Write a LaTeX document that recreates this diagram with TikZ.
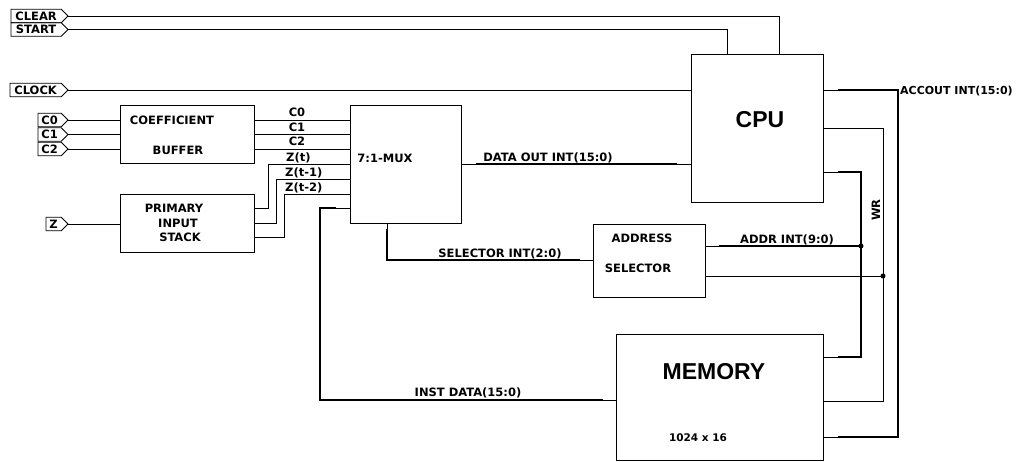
\documentclass[tikz,border=0pt]{standalone}
\usepackage{fontspec}
\setmainfont{Liberation Sans}
\newfontfamily\lblfont{DejaVu Sans}
\usetikzlibrary{shapes.symbols,calc}
\tikzset{
  blk/.style={draw, line width=0.8pt, inner sep=0pt, outer sep=0pt, anchor=north west},
  tag/.style={draw, line width=0.8pt, signal, signal to=east, inner sep=1pt, outer sep=0pt,
     anchor=west, minimum height=13.5pt, font=\lblfont\fontsize{11.5}{12}\selectfont\bfseries},
  thin/.style={line width=0.8pt},
  thick/.style={line width=2.6pt},
  lbl/.style={font=\lblfont\fontsize{11.5}{12}\selectfont\bfseries, inner sep=0pt},
  big/.style={font=\fontsize{23}{25}\selectfont\bfseries, inner sep=0pt},
  dot/.style={circle, fill, inner sep=0pt, minimum size=5pt}
}
\begin{document}
\begin{tikzpicture}[x=1pt,y=-1pt]
\useasboundingbox (0,0) rectangle (1018,462);
% input tags
\node[tag, minimum width=57pt] (clear) at (11,16) {CLEAR};
\node[tag, minimum width=57pt] (start) at (11,29.5) {START};
\node[tag, minimum width=58pt] (clock) at (10,90) {CLOCK};
\node[tag, minimum width=30pt] (c0t) at (38,120) {C0};
\node[tag, minimum width=30pt] (c1t) at (38,134.5) {C1};
\node[tag, minimum width=30pt] (c2t) at (38,149) {C2};
\node[tag, minimum width=22pt] (zt) at (46,224) {Z};
% blocks
\node[blk, minimum width=134pt, minimum height=58pt] (coef) at (120,105) {};
\node[blk, minimum width=134pt, minimum height=58pt] (stack) at (120,194) {};
\node[blk, minimum width=111pt, minimum height=118pt] (mux) at (350,105) {};
\node[blk, minimum width=132pt, minimum height=148pt] (cpu) at (691,54) {};
\node[blk, minimum width=112pt, minimum height=73pt] (addr) at (593,224) {};
\node[blk, minimum width=207pt, minimum height=126pt] (mem) at (616,334) {};
% block texts
\node[lbl] (coefA) at (172,120) {COEFFICIENT};
\node[lbl] (coefB) at (178,150) {BUFFER};
\node[lbl] (stA) at (174,208) {PRIMARY};
\node[lbl] (stB) at (178,223) {INPUT};
\node[lbl] (stC) at (180,237) {STACK};
\node[lbl] (muxT) at (385,158) {7:1-MUX};
\node[big] (cpuT) at (760,120) {CPU};
\node[lbl] (adA) at (642,238) {ADDRESS};
\node[lbl] (adB) at (638,268) {SELECTOR};
\node[big] (memT) at (714,372) {MEMORY};
\node[lbl, font=\lblfont\fontsize{10.5}{12}\selectfont\bfseries] (memB) at (698,438) {1024 x 16};
% coordinates
\coordinate (clrb) at (779,16);
\coordinate (clrc) at (779,54);
\coordinate (stb) at (727,29.5);
\coordinate (stc) at (727,54);
% control wires
\draw[thin] (clear.east) -- (clrb) -- (clrc);
\draw[thin] (start.east) -- (stb) -- (stc);
\draw[thin] (clock.east) -- (691,90);
\draw[thin] (c0t.east) -- (120,120);
\draw[thin] (c1t.east) -- (120,134.5);
\draw[thin] (c2t.east) -- (120,149);
\draw[thin] (zt.east) -- (120,224);
% coefficient to mux
\draw[thin] (254,120) -- (350,120);
\draw[thin] (254,134.5) -- (350,134.5);
\draw[thin] (254,149) -- (350,149);
\node[lbl, anchor=base] (lc0) at (297,117) {C0};
\node[lbl, anchor=base] (lc1) at (297,131.5) {C1};
\node[lbl, anchor=base] (lc2) at (297,146) {C2};
% stack to mux
\draw[thin] (254,208) -- (268,208) -- (268,164) -- (350,164);
\draw[thin] (254,223) -- (276,223) -- (276,179) -- (350,179);
\draw[thin] (254,237) -- (284,237) -- (284,194) -- (350,194);
\node[lbl, anchor=base west] (lz0) at (286,161.5) {Z(t)};
\node[lbl, anchor=base west] (lz1) at (285,176.5) {Z(t-1)};
\node[lbl, anchor=base west] (lz2) at (285,191.5) {Z(t-2)};
% data out
\draw[thin] (461,164) -- (476,164);
\draw[thick] (476,164) -- (677,164);
\draw[thin] (677,164) -- (691,164);
\node[lbl, anchor=base] (ldo) at (548,162) {DATA OUT INT(15:0)};
% selector
\draw[thin] (387,223) -- (387,230);
\draw[thick] (387,229) -- (387,260) -- (580,260);
\draw[thin] (580,260) -- (593,260);
\node[lbl, anchor=base] (lsel) at (500,258) {SELECTOR INT(2:0)};
% address
\draw[thin] (705,246) -- (719,246);
\draw[thick] (719,246) -- (861,246);
\node[lbl, anchor=base] (lad) at (787,244) {ADDR INT(9:0)};
\draw[thin] (705,276) -- (883,276);
\node[dot] (d1) at (861,246) {};
\node[dot] (d2) at (883,276) {};
% cpu outputs
\draw[thin] (823,90) -- (838,90);
\draw[thick] (838,90) -- (898,90) -- (898,437) -- (838,437);
\draw[thin] (838,437) -- (823,437);
\node[lbl, anchor=west, font=\lblfont\fontsize{11}{12}\selectfont\bfseries] (lacc) at (900,91) {ACCOUT INT(15:0)};
\draw[thin] (823,128) -- (883,128) -- (883,401) -- (823,401);
\node[lbl, rotate=90] (lwr) at (876,210) {WR};
\draw[thin] (823,172) -- (838,172);
\draw[thick] (838,172) -- (861,172) -- (861,357) -- (838,357);
\draw[thin] (838,357) -- (823,357);
% inst data
\draw[thin] (616,400) -- (603,400);
\draw[thick] (603,400) -- (320,400) -- (320,208) -- (336,208);
\draw[thin] (336,208) -- (350,208);
\node[lbl, anchor=base] (lin) at (468,397) {INST DATA(15:0)};
\end{tikzpicture}
\end{document}
